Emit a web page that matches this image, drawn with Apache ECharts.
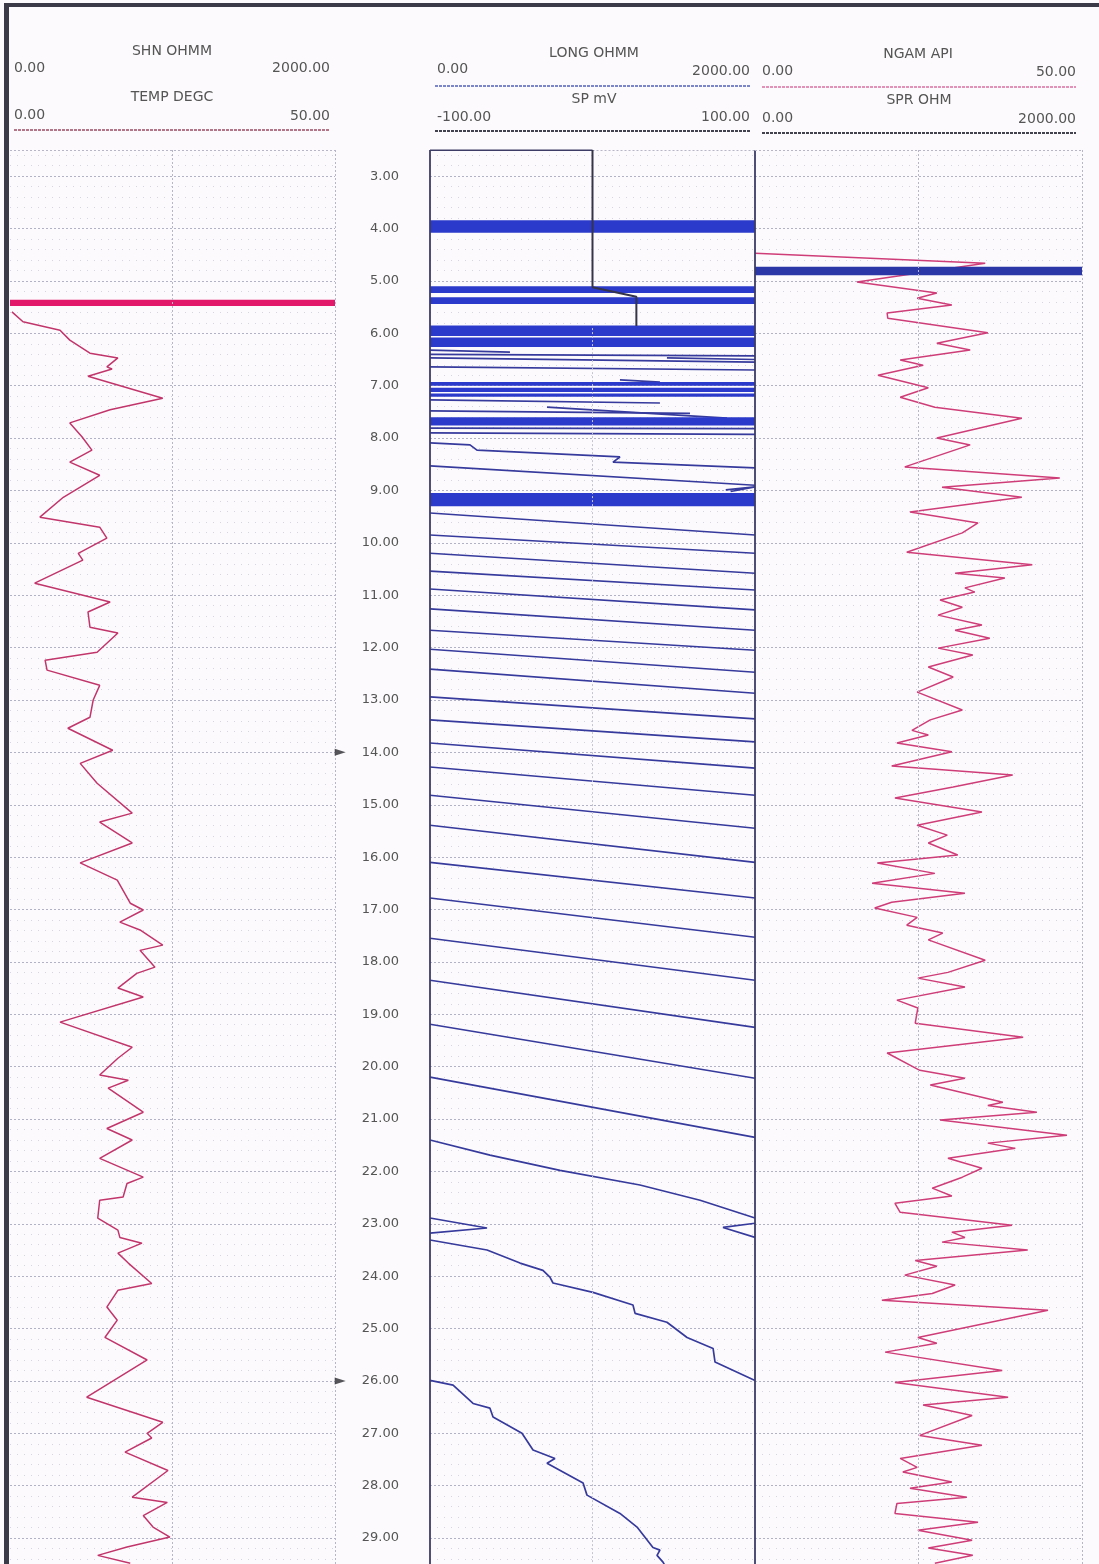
<!DOCTYPE html>
<html><head><meta charset="utf-8">
<script src="https://cdn.jsdelivr.net/npm/echarts@6/dist/echarts.min.js"></script>
<style>html,body{margin:0;padding:0;background:#fcfafc}#c{width:1099px;height:1564px}</style>
</head><body><div id="c"></div>
<script>
// ---------------- DATA (depth in m, values in curve units) ----------------
const tempDepth = [5.59,5.78,5.94,6.13,6.38,6.47,6.64,6.68,6.82,7.24,7.46,7.71,7.98,8.23,8.46,8.71,9.13,9.51,9.70,9.91,10.20,10.33,10.77,11.13,11.32,11.61,11.72,12.09,12.24,12.43,12.72,13.00,13.33,13.54,13.96,14.21,14.59,15.16,15.33,15.73,16.11,16.44,16.88,17.01,17.24,17.39,17.68,17.78,18.10,18.22,18.50,18.67,19.15,19.63,19.84,20.16,20.26,20.41,20.87,21.18,21.40,21.75,22.11,22.23,22.49,22.55,22.89,23.12,23.26,23.37,23.56,23.75,24.14,24.27,24.59,24.84,25.17,25.60,26.31,26.79,27.00,27.09,27.36,27.71,28.22,28.32,28.57,28.79,28.98,29.17,29.33,29.48];
const tempValue = [0.3,2.0,7.7,9.2,12.3,16.6,14.9,15.7,12.0,23.5,15.4,9.2,11.1,12.6,9.2,13.8,8.2,4.6,13.8,14.9,10.5,11.2,3.8,15.4,12.0,12.3,16.6,13.4,5.4,5.7,13.8,12.8,12.3,8.9,15.8,10.8,13.4,18.8,13.8,18.8,10.8,16.5,18.5,20.5,16.9,20.0,23.5,20.0,22.3,19.5,16.6,20.5,7.7,18.8,16.6,13.8,18.2,15.1,20.5,14.9,18.8,13.8,20.5,18.0,17.4,13.8,13.5,16.6,16.9,20.3,16.6,18.2,21.8,16.6,14.9,16.5,14.6,21.1,11.8,23.5,21.1,21.8,17.7,24.3,18.8,24.2,20.5,22.0,24.6,18.0,13.5,18.5];

const shnBandTop = [5.36];
const shnBandBottom = [5.48];

const longBandTop    = [3.84,5.10,5.31,5.85,6.08,6.93,7.04,7.15,7.60,9.05];
const longBandBottom = [4.08,5.23,5.44,6.05,6.26,7.00,7.12,7.21,7.76,9.30];

const longWrapLeft  = [9.43,9.85,10.20,10.54,10.88,11.26,11.67,12.03,12.41,12.94,13.38,13.82,14.28,14.82,15.39,16.10,16.78,17.55,18.35,19.19,20.20];
const longWrapRight = [9.85,10.20,10.58,10.90,11.28,11.67,12.05,12.47,12.87,13.36,13.80,14.30,14.82,15.45,16.10,16.78,17.53,18.35,19.25,20.22,21.35];

const longTraceValue = [
  [0,492],
  [0,2000],
  [0,2000],
  [1458,2000],
  [0,2000],
  [1169,1415],
  [0,1415],
  [720,1828],
  [0,1600],
  [0,2000],
  [0,2000],
  [0,246,289,1169,1126,2000],
  [0,2000],
  [1820,2000,1850],
  [0,369,800,1292,1662,2000],
  [0,351,0],
  [2000,1803,2000],
  [0,351,554,695,738,757,1003,1249,1262,1458,1582,1742,1754,2000],
  [0,142,265,369,388,566,634,769,720,942,966,1169,1274,1372,1415,1397,1434,1450]
];
const longTraceDepth = [
  [6.32,6.36],
  [6.40,6.43],
  [6.47,6.55],
  [6.47,6.50],
  [6.64,6.70],
  [6.89,6.93],
  [7.27,7.33],
  [7.41,7.62],
  [7.48,7.53],
  [7.81,7.82],
  [7.90,7.93],
  [8.09,8.13,8.23,8.36,8.46,8.57],
  [8.53,8.90],
  [8.99,8.93,9.02],
  [21.40,21.69,21.98,22.26,22.55,22.89],
  [22.89,23.08,23.18],
  [22.99,23.07,23.26],
  [23.31,23.50,23.75,23.89,24.02,24.13,24.31,24.55,24.71,24.88,25.17,25.38,25.64,25.99],
  [25.99,26.08,26.43,26.52,26.69,27.00,27.32,27.48,27.57,27.95,28.18,28.53,28.79,29.18,29.23,29.33,29.46,29.55]
];

const spDepth = [2.5,5.12,5.30,5.86];
const spValue = [0,0,27,27];

const ngamDepth = [4.47,4.66,5.02,5.23,5.33,5.46,5.61,5.71,5.99,6.19,6.32,6.51,6.61,6.80,7.04,7.22,7.41,7.62,8.00,8.13,8.55,8.76,8.94,9.13,9.41,9.62,9.81,10.18,10.42,10.58,10.67,10.86,10.94,11.09,11.23,11.38,11.57,11.67,11.82,12.01,12.14,12.37,12.56,12.85,13.19,13.38,13.58,13.67,13.82,13.99,14.26,14.43,14.66,14.87,15.14,15.39,15.58,15.73,15.96,16.11,16.31,16.50,16.69,16.86,16.97,17.15,17.30,17.45,17.58,17.97,18.20,18.31,18.48,18.73,18.88,19.17,19.44,19.74,20.07,20.22,20.35,20.68,20.74,20.87,21.02,21.31,21.46,21.56,21.75,21.94,22.11,22.32,22.47,22.61,22.78,23.03,23.16,23.26,23.35,23.50,23.70,23.81,23.98,24.17,24.33,24.46,24.65,25.17,25.28,25.45,25.80,26.03,26.31,26.46,26.66,27.04,27.23,27.48,27.65,27.74,27.93,28.05,28.22,28.34,28.53,28.70,28.85,29.04,29.19,29.33,29.48];
const ngamValue = [0,35.2,15.6,27.8,24.8,30.1,20.2,20.3,35.6,27.8,32.9,22.2,25.7,18.8,26.5,22.2,27.5,40.8,27.8,32.9,22.9,46.6,28.6,40.8,23.7,34.1,31.7,23.2,42.4,30.6,38.2,32.1,33.6,28.3,31.7,28.0,34.7,30.6,35.9,28.0,33.3,26.5,30.3,24.8,31.7,26.8,24.0,26.5,21.7,30.1,20.9,39.4,30.3,21.4,34.7,24.8,29.4,26.5,31.0,18.7,27.5,17.9,32.1,20.9,18.3,24.8,23.2,28.7,26.5,35.2,29.5,24.9,32.1,21.7,24.9,24.5,41.0,20.2,25.2,32.1,26.8,37.9,35.6,43.1,28.3,47.7,35.6,39.8,29.5,34.7,31.7,27.1,30.1,21.4,22.2,39.3,30.1,32.1,28.6,41.7,24.5,27.8,22.9,30.6,27.1,19.4,44.8,24.9,27.8,19.9,37.8,21.4,38.7,25.7,33.2,25.2,34.7,22.2,24.8,22.6,30.1,23.7,32.4,21.7,21.4,34.1,24.9,33.2,26.5,33.3,27.5];

const sprBandTop = [4.73];
const sprBandBottom = [4.89];

const markerDepth = [14.0, 26.0];

// ---------------- LAYOUT / STYLE ----------------
const PXM = 52.38;                 // pixels per metre
const TOP = 150 - 0.5 * PXM;       // depth 2 at top so 2.5 sits at y=150
const HEIGHT = 28 * PXM;           // 2 .. 30 m
const BG = '#fcfafc';
const FONT = 'DejaVu Sans';
const TXT = '#555';
const LONG_COLOR = '#363a9c';
const BAND_COLOR = '#2c3acb';

const zip = (a, b) => a.map((v, i) => [v, b[i]]);

function yAx(grid, labels) {
  return {
    type: 'value', gridIndex: grid, inverse: true, min: 2, max: 30, interval: 1,
    axisLine: {show: false}, axisTick: {show: false},
    axisLabel: {show: labels, showMinLabel: false, showMaxLabel: false, margin: 31, color: TXT,
      fontFamily: FONT, fontSize: 13, formatter: v => v.toFixed(2)},
    splitLine: {show: true, showMinLine: false, lineStyle: {color: '#b2b2c6', width: 1, type: [2, 2]}},
    minorTick: {show: false, splitNumber: 5},
    minorSplitLine: {show: true, lineStyle: {color: '#d6d6e2', width: 1, type: [1, 6]}}
  };
}
function xAx(grid, min, max) {
  return {type: 'value', gridIndex: grid, min: min, max: max, show: false};
}
function vline(x, y0, y1, style) {
  return [{coord: [x, y0], lineStyle: style}, {coord: [x, y1]}];
}
function hline(x0, x1, y, style) {
  return [{coord: [x0, y], lineStyle: style}, {coord: [x1, y]}];
}
const dotted = {color: '#b6b6c8', width: 1, type: [2, 2]};
const frameStyle = {color: '#3c3c66', width: 1.8, type: 'solid'};

const series = [];

// helper series carrying track frames / vertical grid lines
function helper(xi, yi, lines) {
  series.push({type: 'line', xAxisIndex: xi, yAxisIndex: yi, data: [], z: 1, silent: true,
    markLine: {silent: true, symbol: ['none', 'none'], label: {show: false}, animation: false,
      data: lines}});
}
helper(0, 0, [vline(25, 2.5, 30, dotted), vline(50, 2.5, 30, dotted), hline(0, 50, 2.5, dotted)]);
helper(3, 1, [vline(0, 5.9, 30, {color: '#c4c4d4', width: 1, type: [2, 2]}), vline(-100, 2.5, 30, frameStyle),
  vline(100, 2.5, 30, frameStyle), hline(-100, 0, 2.5, frameStyle), hline(0, 100, 2.5, dotted)]);
helper(4, 2, [vline(25, 2.5, 30, dotted), vline(50, 2.5, 30, dotted), hline(0, 50, 2.5, dotted)]);

// TEMP curve
series.push({type: 'line', name: 'TEMP', xAxisIndex: 0, yAxisIndex: 0, data: zip(tempValue, tempDepth),
  showSymbol: false, z: 3, lineStyle: {color: '#c2356b', width: 1.5}});
// SHN wrapped band
shnBandTop.forEach((t, i) => {
  const b = shnBandBottom[i];
  series.push({type: 'line', xAxisIndex: 1, yAxisIndex: 0, data: [[0, (t + b) / 2], [2000, (t + b) / 2]],
    showSymbol: false, z: 4, lineStyle: {color: '#e2186a', width: (b - t) * PXM, cap: 'butt'}});
});
// depth marker arrows
series.push({type: 'scatter', xAxisIndex: 0, yAxisIndex: 0, data: markerDepth.map(d => [50.8, d]),
  clip: false, symbol: 'triangle', symbolRotate: -90, symbolSize: [7, 11],
  itemStyle: {color: '#2a2a30'}, z: 5});

// LONG wrapped curve
longBandTop.forEach((t, i) => {
  const b = longBandBottom[i];
  series.push({type: 'line', xAxisIndex: 2, yAxisIndex: 1, data: [[0, (t + b) / 2], [2000, (t + b) / 2]],
    showSymbol: false, z: 4, lineStyle: {color: BAND_COLOR, width: (b - t) * PXM, cap: 'butt'}});
});
longWrapLeft.forEach((d, i) => {
  series.push({type: 'line', xAxisIndex: 2, yAxisIndex: 1, data: [[0, d], [2000, longWrapRight[i]]],
    showSymbol: false, z: 3, lineStyle: {color: LONG_COLOR, width: 1.6}});
});
longTraceValue.forEach((vals, i) => {
  series.push({type: 'line', xAxisIndex: 2, yAxisIndex: 1, data: zip(vals, longTraceDepth[i]),
    showSymbol: false, z: 3, lineStyle: {color: LONG_COLOR, width: 1.7}});
});
// SP
series.push({type: 'line', xAxisIndex: 3, yAxisIndex: 1, data: zip(spValue, spDepth),
  showSymbol: false, z: 6, lineStyle: {color: '#34344a', width: 2}});

// NGAM
series.push({type: 'line', xAxisIndex: 4, yAxisIndex: 2, data: zip(ngamValue, ngamDepth),
  showSymbol: false, z: 3, lineStyle: {color: '#cf3d78', width: 1.5}});
// SPR wrapped band
sprBandTop.forEach((t, i) => {
  const b = sprBandBottom[i];
  series.push({type: 'line', xAxisIndex: 5, yAxisIndex: 2, data: [[0, (t + b) / 2], [2000, (t + b) / 2]],
    showSymbol: false, z: 4, lineStyle: {color: '#2b37a6', width: (b - t) * PXM, cap: 'butt'}});
});

// ---------------- HEADER (text + lines) ----------------
function txt(s, x, y, align) {
  return {type: 'text', z: 60, silent: true,
    style: {text: s, x: x, y: y, fill: TXT, font: '14px "' + FONT + '"', align: align, verticalAlign: 'middle'}};
}
function hl(x1, x2, y, color, w) {
  return {type: 'line', z: 60, silent: true, shape: {x1: x1, y1: y, x2: x2, y2: y},
    style: {stroke: color, lineWidth: w, lineDash: [3, 1]}};
}
const graphic = [
  {type: 'rect', z: 50, silent: true, shape: {x: 0, y: 118, width: 1099, height: 31.5}, style: {fill: BG}},
  // left track
  txt('SHN OHMM', 172, 51, 'center'), txt('0.00', 14, 68, 'left'), txt('2000.00', 330, 68, 'right'),
  txt('TEMP DEGC', 172, 97, 'center'), txt('0.00', 14, 115, 'left'), txt('50.00', 330, 116, 'right'),
  hl(14, 330, 130, '#9a4a62', 1.6),
  // middle track
  txt('LONG OHMM', 594, 53, 'center'), txt('0.00', 437, 69, 'left'), txt('2000.00', 750, 71, 'right'),
  hl(435, 750, 86, '#5060b8', 1.6),
  txt('SP mV', 594, 99, 'center'), txt('-100.00', 437, 117, 'left'), txt('100.00', 750, 117, 'right'),
  hl(435, 750, 131, '#42424e', 1.8),
  // right track
  txt('NGAM API', 918, 54, 'center'), txt('0.00', 762, 71, 'left'), txt('50.00', 1076, 72, 'right'),
  hl(762, 1076, 87, '#d8709e', 1.6),
  txt('SPR OHM', 919, 100, 'center'), txt('0.00', 762, 118, 'left'), txt('2000.00', 1076, 119, 'right'),
  hl(762, 1076, 133, '#42424e', 1.8),
  // scanned page frame
  {type: 'rect', z: 70, silent: true, shape: {x: 4, y: 3, width: 1095, height: 4}, style: {fill: '#3a3a48'}},
  {type: 'rect', z: 70, silent: true, shape: {x: 4, y: 3, width: 5, height: 1561}, style: {fill: '#3a3a48'}}
];

const option = {
  backgroundColor: BG,
  animation: false,
  grid: [
    {left: 10, top: TOP, width: 325, height: HEIGHT, outerBoundsMode: 'none', containLabel: false},
    {left: 430, top: TOP, width: 325, height: HEIGHT, outerBoundsMode: 'none', containLabel: false},
    {left: 755, top: TOP, width: 327, height: HEIGHT, outerBoundsMode: 'none', containLabel: false}
  ],
  xAxis: [xAx(0, 0, 50), xAx(0, 0, 2000), xAx(1, 0, 2000), xAx(1, -100, 100), xAx(2, 0, 50), xAx(2, 0, 2000)],
  yAxis: [yAx(0, false), yAx(1, true), yAx(2, false)],
  graphic: graphic,
  series: series
};
const chart = echarts.init(document.getElementById('c'), null, {renderer: 'canvas'});
chart.setOption(option);
</script>
</body></html>
